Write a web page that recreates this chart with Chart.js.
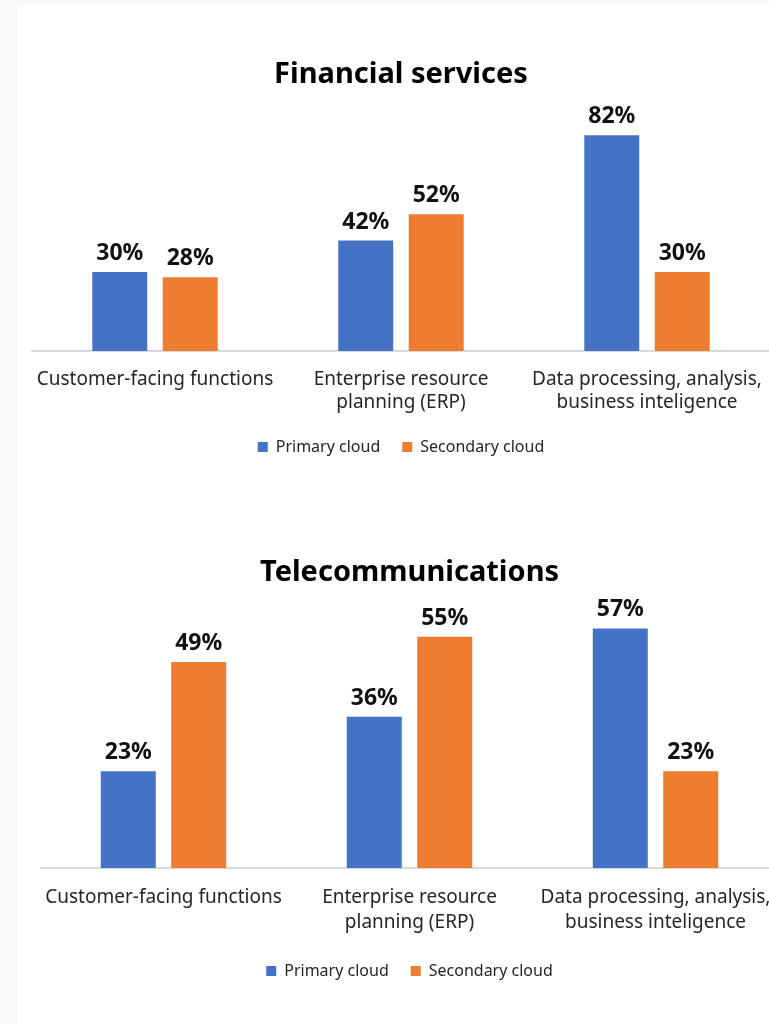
<!DOCTYPE html>
<html><head><meta charset="utf-8">
<script src="https://cdn.jsdelivr.net/npm/chart.js@4"></script>
<style>
html,body{margin:0;padding:0;background:#f9f8f6;overflow:hidden;width:769px;height:1024px;}
#panel{position:absolute;left:18px;top:5px;width:760px;height:1030px;background:#fff;}
canvas{position:absolute;left:0;}
#c1{top:0;}
#c2{top:490px;}
</style></head><body>
<div id="panel"></div>
<canvas id="c1" width="800" height="470"></canvas>
<canvas id="c2" width="800" height="504"></canvas>
<script>
const categories = [
  'Customer-facing functions',
  ['Enterprise resource', 'planning (ERP)'],
  ['Data processing, analysis,', 'business inteligence']
];
const seriesNames = ['Primary cloud', 'Secondary cloud'];
const financialPrimary = [30, 42, 82];
const financialSecondary = [28, 52, 30];
const telecomPrimary = [23, 36, 57];
const telecomSecondary = [49, 55, 23];

const FONT = "'Noto Sans', 'Open Sans', sans-serif";
const BLUE = '#4472C4', ORANGE = '#ED7D31';

const valueLabels = {
  id: 'valueLabels',
  afterDatasetsDraw(chart) {
    const ctx = chart.ctx;
    ctx.save();
    ctx.font = 'bold 23px ' + FONT;
    ctx.fillStyle = '#111';
    ctx.textAlign = 'center';
    ctx.textBaseline = 'alphabetic';
    chart.data.datasets.forEach((ds, i) => {
      chart.getDatasetMeta(i).data.forEach((bar, j) => {
        ctx.fillText(ds.data[j] + '%', bar.x, bar.y - 12);
      });
    });
    ctx.restore();
  }
};

function makeChart(id, title, primary, secondary, o) {
  return new Chart(document.getElementById(id), {
    type: 'bar',
    data: {
      labels: categories,
      datasets: [
        { label: seriesNames[0], data: primary, backgroundColor: BLUE },
        { label: seriesNames[1], data: secondary, backgroundColor: ORANGE }
      ]
    },
    options: {
      responsive: false,
      animation: false,
      devicePixelRatio: 1,
      layout: { padding: { left: o.left, right: o.right, top: 0, bottom: o.bottom } },
      datasets: { bar: { categoryPercentage: 0.573, barPercentage: 0.78 } },
      plugins: {
        title: {
          display: true, text: title, color: '#000',
          font: { family: FONT, size: 29, weight: 'bold', lineHeight: 1.2 },
          padding: { top: o.titleTop, bottom: o.titleBottom }
        },
        legend: {
          display: true, position: 'bottom',
          labels: {
            boxWidth: 10, boxHeight: 10, padding: 22, color: '#262626',
            font: { family: FONT, size: 16 }
          }
        },
        tooltip: { enabled: false }
      },
      scales: {
        x: {
          grid: { display: true, drawOnChartArea: false, drawTicks: false },
          border: { display: true, color: '#d9d9d9', width: 2 },
          ticks: {
            color: '#262626', padding: 17, maxRotation: 0, autoSkip: false,
            font: { family: FONT, size: 19, lineHeight: o.tickLH }
          },
          afterFit(axis) { axis.height = o.axisH; }
        },
        y: { display: false, min: 0, max: o.max }
      }
    },
    plugins: [valueLabels]
  });
}

makeChart('c1', 'Financial services', financialPrimary, financialSecondary,
  { left: 32, right: 30, bottom: 5, titleTop: 57, titleBottom: 6.7, max: 96, axisH: 66, tickLH: 1.21 });
makeChart('c2', 'Telecommunications', telecomPrimary, telecomSecondary,
  { left: 40.5, right: 21.5, bottom: 5, titleTop: 65, titleBottom: 9.2, max: 64, axisH: 73, tickLH: 1.316 });
</script>
</body></html>
